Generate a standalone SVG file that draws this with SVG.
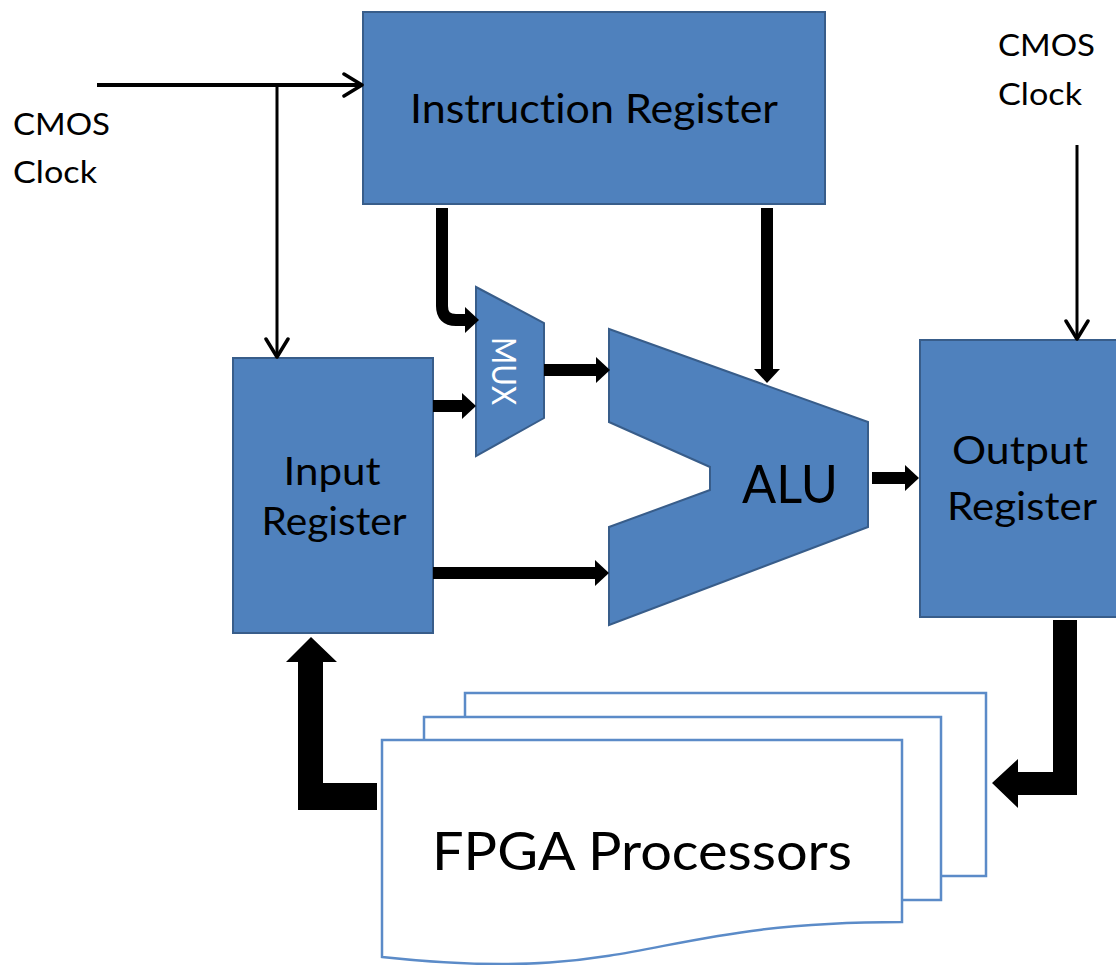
<svg xmlns="http://www.w3.org/2000/svg" width="1116" height="965" viewBox="0 0 1116 965">
<style>
  .blk { fill: #4F81BD; stroke: #385D8A; stroke-width: 2; }
  .doc { fill: #FFFFFF; stroke: #5B8BC8; stroke-width: 2.5; }
  .t { font-family: Lato, "Open Sans", "Liberation Sans", sans-serif; fill: #000000; font-variant-ligatures: none; }
  .w { font-family: Lato, "Open Sans", "Liberation Sans", sans-serif; fill: #FFFFFF; font-variant-ligatures: none; }
  .thin { fill: none; stroke: #000000; }
  .med { fill: none; stroke: #000000; stroke-width: 12; }
</style>
<defs>
  <marker id="head" viewBox="0 0 14 26" markerWidth="14" markerHeight="26" markerUnits="userSpaceOnUse" refX="0" refY="13" orient="auto">
    <path d="M0,0 L14,13 L0,26 Z" fill="#000000"/>
  </marker>
  <marker id="chev" viewBox="0 0 22 26" markerWidth="22" markerHeight="26" markerUnits="userSpaceOnUse" refX="20" refY="13" orient="auto">
    <path d="M2,2 L20,13 L2,24" fill="none" stroke="#000000" stroke-width="3.5" stroke-linecap="round" stroke-linejoin="round"/>
  </marker>
</defs>
<rect width="1116" height="965" fill="#FFFFFF"/>

<g id="instruction-register">
  <rect class="blk" x="363" y="12" width="462" height="192"/>
  <text class="t" x="594" y="123" font-size="40" text-anchor="middle" textLength="368" lengthAdjust="spacingAndGlyphs">Instruction Register</text>
</g>

<g id="input-register">
  <rect class="blk" x="233" y="358" width="200" height="275"/>
  <text class="t" x="332" y="485" font-size="39" text-anchor="middle" textLength="97" lengthAdjust="spacingAndGlyphs">Input</text>
  <text class="t" x="334" y="535" font-size="39" text-anchor="middle" textLength="145" lengthAdjust="spacingAndGlyphs">Register</text>
</g>

<g id="output-register">
  <rect class="blk" x="920" y="340" width="210" height="277"/>
  <text class="t" x="1020" y="464" font-size="39" text-anchor="middle" textLength="136" lengthAdjust="spacingAndGlyphs">Output</text>
  <text class="t" x="1022" y="520" font-size="39" text-anchor="middle" textLength="150" lengthAdjust="spacingAndGlyphs">Register</text>
</g>

<g id="mux">
  <polygon class="blk" points="476,287 544,323 544,418 476,456"/>
  <text class="w" transform="translate(492,371) rotate(90)" x="0" y="0" font-size="32" text-anchor="middle" textLength="68" lengthAdjust="spacingAndGlyphs">MUX</text>
</g>

<g id="alu">
  <polygon class="blk" points="609,329 868,422 868,527 609,625 609,527 710,490 710,467 609,422"/>
  <text class="t" x="790" y="503" font-size="52" text-anchor="middle" textLength="96" lengthAdjust="spacingAndGlyphs">ALU</text>
</g>

<g id="fpga-processors">
  <rect class="doc" x="465" y="693" width="521" height="183"/>
  <rect class="doc" x="424" y="717" width="517" height="183"/>
  <path class="doc" d="M382,740 L902,740 L902,922 C642,922 642,985 382,957 Z"/>
  <text class="t" x="642" y="870" font-size="53" text-anchor="middle" textLength="420" lengthAdjust="spacingAndGlyphs">FPGA Processors</text>
</g>

<g id="clock-left">
  <text class="t" x="13" y="135" font-size="31" textLength="97" lengthAdjust="spacingAndGlyphs">CMOS</text>
  <text class="t" x="13" y="183" font-size="31" textLength="84" lengthAdjust="spacingAndGlyphs">Clock</text>
</g>

<g id="clock-right">
  <text class="t" x="998" y="56" font-size="31" textLength="97" lengthAdjust="spacingAndGlyphs">CMOS</text>
  <text class="t" x="998" y="105" font-size="31" textLength="84" lengthAdjust="spacingAndGlyphs">Clock</text>
</g>

<g id="connectors">
  <line class="thin" x1="97" y1="85" x2="362" y2="85" stroke-width="4" marker-end="url(#chev)"/>
  <line class="thin" x1="277" y1="85" x2="277" y2="357" stroke-width="3" marker-end="url(#chev)"/>
  <line class="thin" x1="1077" y1="145" x2="1077" y2="339" stroke-width="3" marker-end="url(#chev)"/>

  <path class="med" d="M442,208 V306 Q442,320 456,320 H465" stroke-width="13" marker-end="url(#head)"/>
  <line class="med" x1="433" y1="406" x2="462" y2="406" marker-end="url(#head)"/>
  <line class="med" x1="544" y1="370" x2="596" y2="370" marker-end="url(#head)"/>
  <line class="med" x1="433" y1="573" x2="595" y2="573" marker-end="url(#head)"/>
  <line class="med" x1="767" y1="208" x2="767" y2="369" stroke-width="13" marker-end="url(#head)"/>
  <line class="med" x1="872" y1="478" x2="905" y2="478" marker-end="url(#head)"/>

  <polygon fill="#000000" points="377,783 323,783 323,662 337,662 311,637 286,662 298,662 298,810 377,810"/>
  <polygon fill="#000000" points="1053,620 1077,620 1077,795 1018,795 1018,808 992,783 1018,759 1018,772 1053,772"/>
</g>
</svg>
